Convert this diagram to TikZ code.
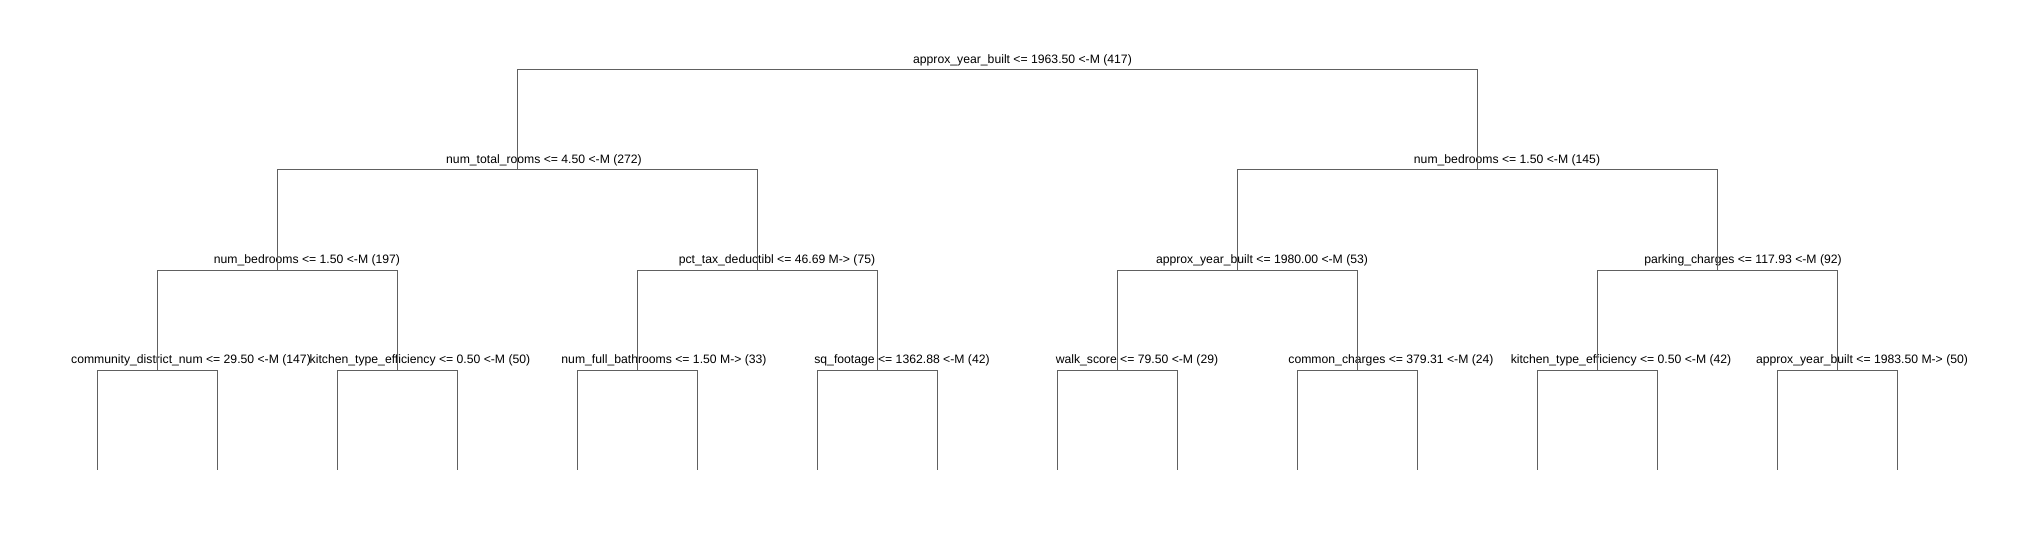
\documentclass[tikz,border=0pt]{standalone}
\usepackage{fontspec}
\setmainfont{Liberation Sans}
\usepackage{tikz}
\definecolor{branchgray}{RGB}{96,96,96}
\tikzset{split label/.style={anchor=base,inner sep=0pt,font=\fontsize{12.2}{14}\selectfont},
branch/.style={draw=branchgray,line width=1pt},
}
\usetikzlibrary{positioning}

\begin{document}
\begin{tikzpicture}[x=1pt,y=-1pt]
\useasboundingbox (0,0) rectangle (2035,540);

%% split points
\coordinate (s0) at (997.3,70);
\coordinate (s1) at (517.3,170);
\coordinate (s2) at (1477.3,170);
\coordinate (s3) at (277.3,270);
\coordinate (s4) at (757.3,270);
\coordinate (s5) at (1237.3,270);
\coordinate (s6) at (1717.3,270);
\coordinate (s7) at (157.3,370);
\coordinate (s8) at (397.3,370);
\coordinate (s9) at (637.3,370);
\coordinate (s10) at (877.3,370);
\coordinate (s11) at (1117.3,370);
\coordinate (s12) at (1357.3,370);
\coordinate (s13) at (1597.3,370);
\coordinate (s14) at (1837.3,370);
\foreach \i in {0,...,15}
  \coordinate (t\i) at (97.3+120*\i,470);

%% labels
\node[split label] (l0) at (1022.5,63.5) {approx\_year\_built <= 1963.50 <-M (417)};
\node[split label] (l1) at (544,163.5) {num\_total\_rooms <= 4.50 <-M (272)};
\node[split label] (l2) at (1507,163.5) {num\_bedrooms <= 1.50 <-M (145)};
\node[split label] (l3) at (307,263.5) {num\_bedrooms <= 1.50 <-M (197)};
\node[split label] (l4) at (777,263.5) {pct\_tax\_deductibl <= 46.69 M-> (75)};
\node[split label] (l5) at (1262,263.5) {approx\_year\_built <= 1980.00 <-M (53)};
\node[split label] (l6) at (1743,263.5) {parking\_charges <= 117.93 <-M (92)};
\node[split label] (l7) at (191,363.5) {community\_district\_num <= 29.50 <-M (147)};
\node[split label] (l8) at (420,363.5) {kitchen\_type\_efficiency <= 0.50 <-M (50)};
\node[split label] (l9) at (664,363.5) {num\_full\_bathrooms <= 1.50 M-> (33)};
\node[split label] (l10) at (902,363.5) {sq\_footage <= 1362.88 <-M (42)};
\node[split label] (l11) at (1137,363.5) {walk\_score <= 79.50 <-M (29)};
\node[split label] (l12) at (1391,363.5) {common\_charges <= 379.31 <-M (24)};
\node[split label] (l13) at (1621,363.5) {kitchen\_type\_efficiency <= 0.50 <-M (42)};
\node[split label] (l14) at (1862,363.5) {approx\_year\_built <= 1983.50 M-> (50)};

\path[branch]
(s0) -| (s1) (s0) -| (s2)
(s1) -| (s3) (s1) -| (s4)
(s2) -| (s5) (s2) -| (s6)
(s3) -| (s7) (s3) -| (s8)
(s4) -| (s9) (s4) -| (s10)
(s5) -| (s11) (s5) -| (s12)
(s6) -| (s13) (s6) -| (s14)
(s7) -| (t0) (s7) -| (t1)
(s8) -| (t2) (s8) -| (t3)
(s9) -| (t4) (s9) -| (t5)
(s10) -| (t6) (s10) -| (t7)
(s11) -| (t8) (s11) -| (t9)
(s12) -| (t10) (s12) -| (t11)
(s13) -| (t12) (s13) -| (t13)
(s14) -| (t14) (s14) -| (t15)
;
\end{tikzpicture}
\end{document}
